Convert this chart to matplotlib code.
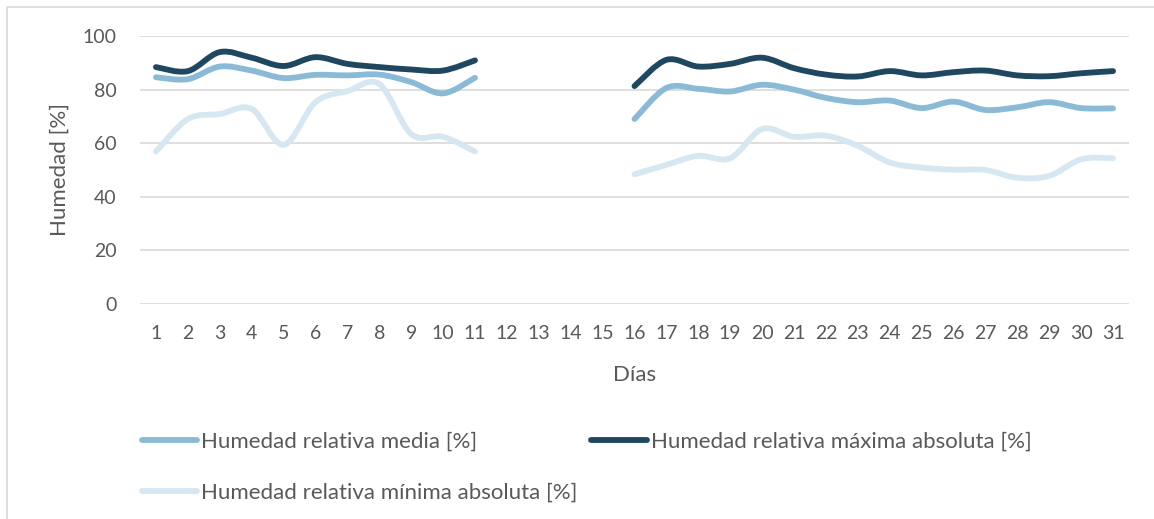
import numpy as np
import matplotlib.pyplot as plt
from matplotlib.path import Path
from matplotlib.patches import PathPatch, Rectangle
from matplotlib.lines import Line2D

plt.rcParams['font.family'] = ['Lato', 'DejaVu Sans']

# Data (days 12-15 without records)
dias = list(range(1, 32))
nan = np.nan
hr_media = [84.6, 83.9, 88.6, 87.1, 84.3, 85.5, 85.3, 85.6, 82.8, 78.6, 84.4,
            nan, nan, nan, nan,
            69.0, 80.6, 80.3, 79.3, 81.8, 80.0, 76.9, 75.3, 75.9, 73.1, 75.5,
            72.4, 73.4, 75.3, 73.1, 73.0]
hr_max = [88.4, 86.9, 94.0, 91.9, 88.8, 92.1, 89.6, 88.4, 87.5, 87.1, 90.9,
          nan, nan, nan, nan,
          81.3, 91.1, 88.6, 89.6, 91.9, 88.0, 85.6, 84.9, 86.9, 85.3, 86.5,
          87.1, 85.3, 85.0, 86.1, 86.9]
hr_min = [56.9, 69.0, 70.9, 72.8, 59.4, 75.3, 79.4, 82.1, 63.4, 62.4, 56.9,
          nan, nan, nan, nan,
          48.4, 51.9, 55.3, 54.4, 65.3, 62.4, 62.8, 59.0, 52.8, 50.9, 50.1,
          50.0, 47.1, 47.8, 54.0, 54.4]

series = [
    ("Humedad relativa media [%]", hr_media, "#8BBAD6"),
    ("Humedad relativa máxima absoluta [%]", hr_max, "#1F4760"),
    ("Humedad relativa mínima absoluta [%]", hr_min, "#D7E7F1"),
]


def smooth_path(x, y):
    # bezier path through the points, like the "smoothed line" option of a spreadsheet
    pts = np.column_stack([x, y])
    n = len(pts)
    verts = [pts[0]]
    codes = [Path.MOVETO]
    for i in range(n - 1):
        p0 = pts[max(i - 1, 0)]
        p1 = pts[i]
        p2 = pts[i + 1]
        p3 = pts[min(i + 2, n - 1)]
        c1 = p1 + (p2 - p0) / 6.0
        c2 = p2 - (p3 - p1) / 6.0
        verts += [c1, c2, p2]
        codes += [Path.CURVE4] * 3
    return Path(verts, codes)


W, H = 1154, 519
fig = plt.figure(figsize=(W / 100, H / 100), dpi=100)
ax = fig.add_axes([140 / W, 1 - 304 / H, (1129 - 140) / W, (304 - 36) / H])

x = np.array(dias, dtype=float)
handles = {}
for label, vals, color in series:
    v = np.array(vals, dtype=float)
    ok = ~np.isnan(v)
    # split into continuous segments
    idx = np.where(ok)[0]
    groups = np.split(idx, np.where(np.diff(idx) > 1)[0] + 1)
    for g in groups:
        patch = PathPatch(smooth_path(x[g], v[g]), facecolor='none', edgecolor=color,
                          lw=4.2, capstyle='round', joinstyle='round', zorder=3)
        ax.add_patch(patch)
    handles[label] = Line2D([], [], color=color, lw=4.2, solid_capstyle='round')

ax.set_xlim(0.5, 31.5)
ax.set_ylim(0, 100)
ax.set_xticks(dias)
ax.set_yticks(range(0, 101, 20))
ax.tick_params(axis='both', length=0, labelsize=14, labelcolor='#595959')
ax.tick_params(axis='y', pad=17)
ax.tick_params(axis='x', pad=15)
for s in ax.spines.values():
    s.set_visible(False)
ax.grid(axis='y', color='#D9D9D9', lw=1.2)
ax.set_axisbelow(True)

ax.set_ylabel("Humedad [%]", fontsize=16, color='#595959')
ax.yaxis.set_label_coords(-0.071, 0.5)
ax.set_xlabel("Días", fontsize=16, color='#595959')
ax.xaxis.set_label_coords(0.5, -0.228)

order = [series[0][0], series[2][0], series[1][0]]
fig.legend([handles[k] for k in order], order, loc='upper left',
           bbox_to_anchor=(142 / W, 1 - 432 / H), ncol=2, frameon=False,
           fontsize=16, labelcolor='#595959', handlelength=2.48,
           handletextpad=0.18, columnspacing=0.63, labelspacing=1.37,
           borderpad=0, borderaxespad=0)

fig.patches.append(Rectangle((7 / W, -0.1), 1.2, 1 - 7 / H + 0.1,
                             transform=fig.transFigure, fill=False,
                             edgecolor='#D9D9D9', lw=1.2))

fig.savefig("out.png", dpi=100)
